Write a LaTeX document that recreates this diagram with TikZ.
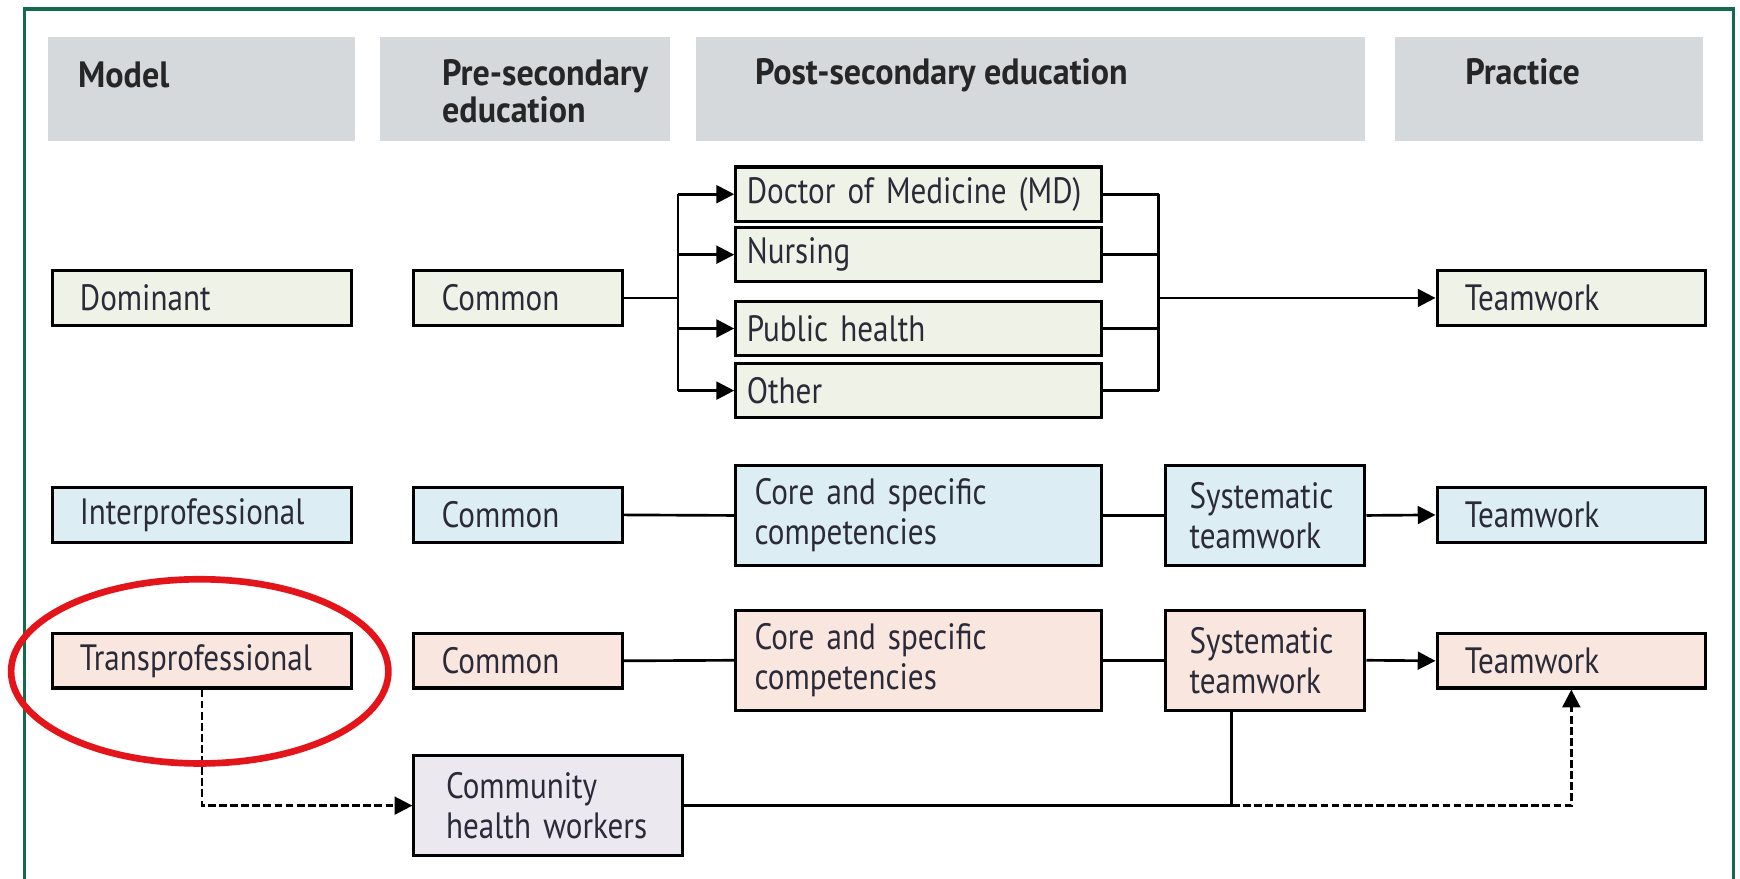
\documentclass[tikz,border=0pt]{standalone}
\usepackage{fontspec}
\setmainfont{PT Sans}[FakeStretch=0.85]
\newfontfamily\hdfont{PT Sans}[FakeStretch=0.93]
\usetikzlibrary{arrows.meta}
\definecolor{frame}{HTML}{146B4C}
\definecolor{hdrfill}{HTML}{D5D9DC}
\definecolor{txt}{HTML}{2A2A38}
\definecolor{domfill}{HTML}{EFF2E7}
\definecolor{ipffill}{HTML}{DCEDF3}
\definecolor{tpffill}{HTML}{F9E6DF}
\definecolor{chwfill}{HTML}{ECE8F0}
\definecolor{ringred}{HTML}{E4141B}
\begin{document}
\begin{tikzpicture}[x=0.5pt,y=-0.5pt,
  hdr/.style={fill=hdrfill, inner sep=0pt, minimum height=47pt},
  hdrtxt/.style={anchor=north west, inner sep=0pt, align=left, text=black!85,
    font=\hdfont\fontsize{16.5}{17}\selectfont\bfseries},
  box/.style={draw=black, line width=1.4pt, inner ysep=0pt, align=left, text=txt,
    font=\fontsize{16.5}{18}\selectfont},
  dom/.style={box, fill=domfill},
  ipf/.style={box, fill=ipffill},
  tpf/.style={box, fill=tpffill},
  cw/.style={box, fill=chwfill},
  wModel/.style={minimum width=135pt, text width=110pt, inner xsep=12.5pt},
  wCom/.style={minimum width=94pt, text width=69pt, inner xsep=12.5pt},
  wMD/.style={minimum width=165pt, text width=155pt, inner xsep=5pt},
  wCore/.style={minimum width=165pt, text width=148pt, inner xsep=8.5pt},
  wSys/.style={minimum width=90pt, text width=68pt, inner xsep=11pt},
  wTw/.style={minimum width=121pt, text width=96pt, inner xsep=12.5pt},
  wChw/.style={minimum width=121pt, text width=92pt, inner xsep=14.5pt},
  hOne/.style={minimum height=24.5pt},
  hTwo/.style={minimum height=45pt},
  link/.style={line width=1.2pt},
  tip/.style={-{Triangle[length=8pt,width=8pt]}},
  arr/.style={link, tip},
  dlink/.style={link, dash pattern=on 3.5pt off 1.5pt},
]
\useasboundingbox (0,0) rectangle (1568,792);

% outer frame
\draw[frame, line width=1.6pt] (22,795) -- (22,8) -- (1562,8) -- (1562,795);

% column headers
\node[hdr, minimum width=138.5pt] (hModel) at (181.5,80) {};
\node[hdr, minimum width=131pt] (hPre) at (473,80) {};
\node[hdr, minimum width=301.5pt] (hPost) at (928.5,80) {};
\node[hdr, minimum width=139pt] (hPrac) at (1396,80) {};
\node[hdrtxt] (tModel) at (70,55) {Model};
\node[hdrtxt] (tPre) at (398,53) {Pre-secondary\\education};
\node[hdrtxt] (tPost) at (680,52) {Post-secondary education};
\node[hdrtxt] (tPrac) at (1320,52) {Practice};

% dominant model
\node[dom, wModel, hOne] (dom) at (182,268.5) {Dominant};
\node[dom, wCom, hOne] (com1) at (467,268.5) {Common};
\node[dom, wMD, hOne] (md) at (828,175) {Doctor of Medicine (MD)};
\node[dom, wMD, hOne] (nur) at (828,229.5) {Nursing};
\node[dom, wMD, hOne] (ph) at (828,296) {Public health};
\node[dom, wMD, hOne] (oth) at (828,352) {Other};
\node[dom, wTw, hOne] (tw1) at (1416,268.5) {Teamwork};

% interprofessional model
\node[ipf, wModel, hOne] (inter) at (182,464) {Interprofessional};
\node[ipf, wCom, hOne] (com2) at (467,464) {Common};
\node[ipf, wCore, hTwo] (core2) at (828,464.5) {Core and specific\\competencies};
\node[ipf, wSys, hTwo] (sys2) at (1140,464.5) {Systematic\\teamwork};
\node[ipf, wTw, hOne] (tw2) at (1416,464) {Teamwork};

% transprofessional model
\node[tpf, wModel, hOne] (trans) at (182,595.5) {Transprofessional};
\node[tpf, wCom, hOne] (com3) at (467,595.5) {Common};
\node[tpf, wCore, hTwo] (core3) at (828,595) {Core and specific\\competencies};
\node[tpf, wSys, hTwo] (sys3) at (1140,595) {Systematic\\teamwork};
\node[tpf, wTw, hOne] (tw3) at (1416,595.5) {Teamwork};
\node[cw, wChw, hTwo] (chw) at (494,726) {Community\\health workers};

% branching in the dominant model
\coordinate (busL) at (611,268.5);
\coordinate (busR) at (1044,268.5);
\draw[link] (com1.east) -- (busL);
\draw[link] (busL |- md.west) -- (busL |- oth.west);
\foreach \n in {md,nur,ph,oth} {
  \draw[arr] (busL |- \n.west) -- (\n.west);
  \draw[link] (\n.east) -- (busR |- \n.east);
}
\draw[link] (busR |- md.east) -- (busR |- oth.east);
\draw[arr] (busR) -- (tw1.west);

% interprofessional chain
\draw[link] (com2.east) -- (core2.west);
\draw[link] (core2.east) -- (sys2.west);
\draw[arr] (sys2.east) -- (tw2.west);

% transprofessional chain
\draw[link] (com3.east) -- (core3.west);
\draw[link] (core3.east) -- (sys3.west);
\draw[arr] (sys3.east) -- (tw3.west);

% community health workers path
\coordinate (jn) at (1110,726);
\draw[dlink, tip] (trans.south) |- (chw.west);
\draw[link] (chw.east) -- (jn);
\draw[link] (jn |- sys3.south) -- (jn);
\draw[dlink, tip] (jn) -| (tw3.south);

% highlight
\draw[ringred, line width=3pt] (180,605) ellipse [x radius=85pt, y radius=41.5pt];
\end{tikzpicture}
\end{document}
